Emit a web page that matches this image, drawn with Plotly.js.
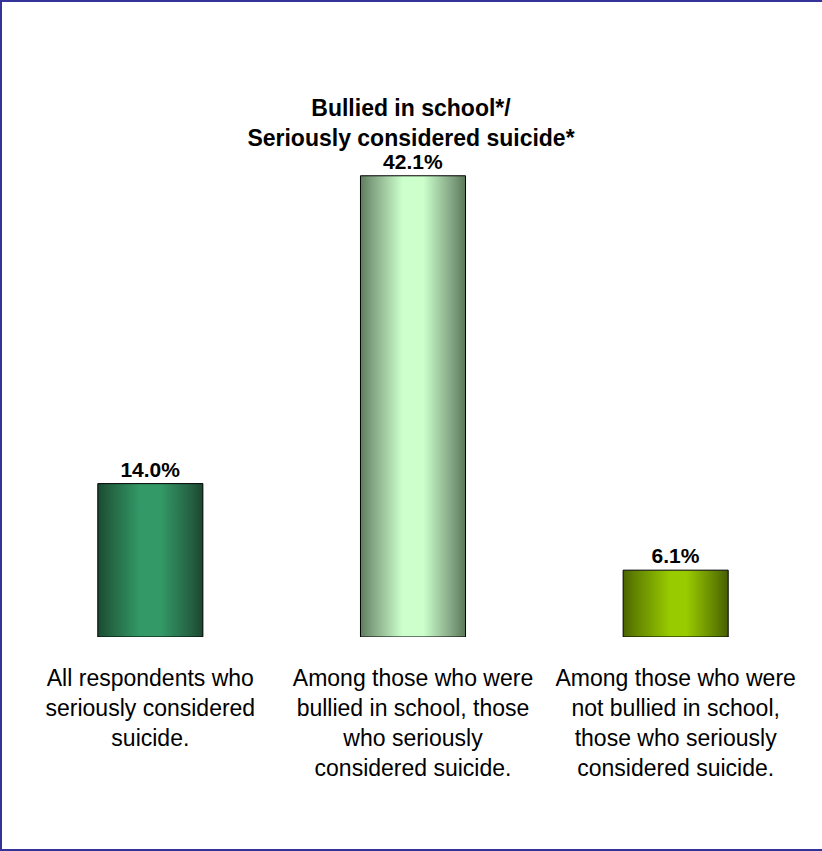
<!DOCTYPE html>
<html>
<head>
<meta charset="utf-8">
<script src="https://cdn.plot.ly/plotly-3.0.1.min.js"></script>
<style>
  html, body { margin: 0; padding: 0; background: #fff; }
  #wrap { position: relative; width: 822px; height: 851px; overflow: hidden; }
  #chart { width: 822px; height: 851px; }
  #frame { position: absolute; left: 0; top: 0; width: 840px; height: 851px; box-sizing: border-box;
           border: 2px solid #333399; pointer-events: none; }
</style>
</head>
<body>
<div id="wrap">
  <div id="chart"></div>
  <div id="frame"></div>
</div>
<script>
const categories = [
  "All respondents who<br>seriously considered<br>suicide.",
  "Among those who were<br>bullied in school, those<br>who seriously<br>considered suicide.",
  "Among those who were<br>not bullied in school,<br>those who seriously<br>considered suicide."
];
const values = [14.0, 42.1, 6.1];
const valueLabels = ["14.0%", "42.1%", "6.1%"];
const titleText = "Bullied in school*/<br>Seriously considered suicide*";

const gradients = [
  [[0, "#1c4a33"], [0.1, "#22603f"], [0.4, "#339966"], [0.6, "#339966"], [0.9, "#245e41"], [1, "#1b462f"]],
  [[0, "#5d7d5d"], [0.1, "#7fa07f"], [0.4, "#ccffcc"], [0.6, "#ccffcc"], [0.9, "#7a9a7a"], [1, "#587858"]],
  [[0, "#4a6400"], [0.1, "#5f8000"], [0.45, "#99cc00"], [0.6, "#99cc00"], [0.9, "#5d7c00"], [1, "#465e00"]]
];
const baseColors = ["#339966", "#ccffcc", "#99cc00"];

const font = "Liberation Sans, Arial, sans-serif";

const trace = {
  type: "bar",
  x: [0, 1, 2],
  y: values,
  width: 0.4,
  text: valueLabels,
  textposition: "outside",
  textfont: { family: font, size: 21, color: "#000", weight: "bold" },
  cliponaxis: false,
  marker: { color: baseColors, line: { color: "#000", width: 1 } },
  hoverinfo: "none"
};

const layout = {
  width: 822,
  height: 851,
  margin: { l: 19, r: 15, t: 144, b: 214 },
  paper_bgcolor: "#fff",
  plot_bgcolor: "#fff",
  showlegend: false,
  title: {
    text: "<b>" + titleText + "</b>",
    font: { family: font, size: 23, color: "#000" },
    x: 0.5, xref: "container", xanchor: "center",
    y: 1 - 116 / 851, yref: "container", yanchor: "middle"
  },
  xaxis: {
    tickmode: "array",
    tickvals: [0, 1, 2],
    ticktext: categories,
    range: [-0.5, 2.5],
    showgrid: false, zeroline: false, showline: false,
    ticks: "",
    tickfont: { family: font, size: 23, color: "#000" },
    ticklabelstandoff: 25
  },
  yaxis: {
    range: [0, 45],
    visible: false,
    showgrid: false, zeroline: false
  }
};

Plotly.newPlot("chart", [trace], layout, { staticPlot: true }).then(function (gd) {
  const svgNS = "http://www.w3.org/2000/svg";
  const defs = gd.querySelector(".main-svg defs");
  gradients.forEach(function (stops, i) {
    const g = document.createElementNS(svgNS, "linearGradient");
    g.setAttribute("id", "barGrad" + i);
    g.setAttribute("x1", "0"); g.setAttribute("y1", "0");
    g.setAttribute("x2", "1"); g.setAttribute("y2", "0");
    stops.forEach(function (s) {
      const st = document.createElementNS(svgNS, "stop");
      st.setAttribute("offset", s[0]);
      st.setAttribute("stop-color", s[1]);
      g.appendChild(st);
    });
    defs.appendChild(g);
  });
  const paths = gd.querySelectorAll(".bars .point path");
  paths.forEach(function (p, i) {
    p.style.fill = "url(#barGrad" + i + ")";
  });
});
</script>
</body>
</html>
